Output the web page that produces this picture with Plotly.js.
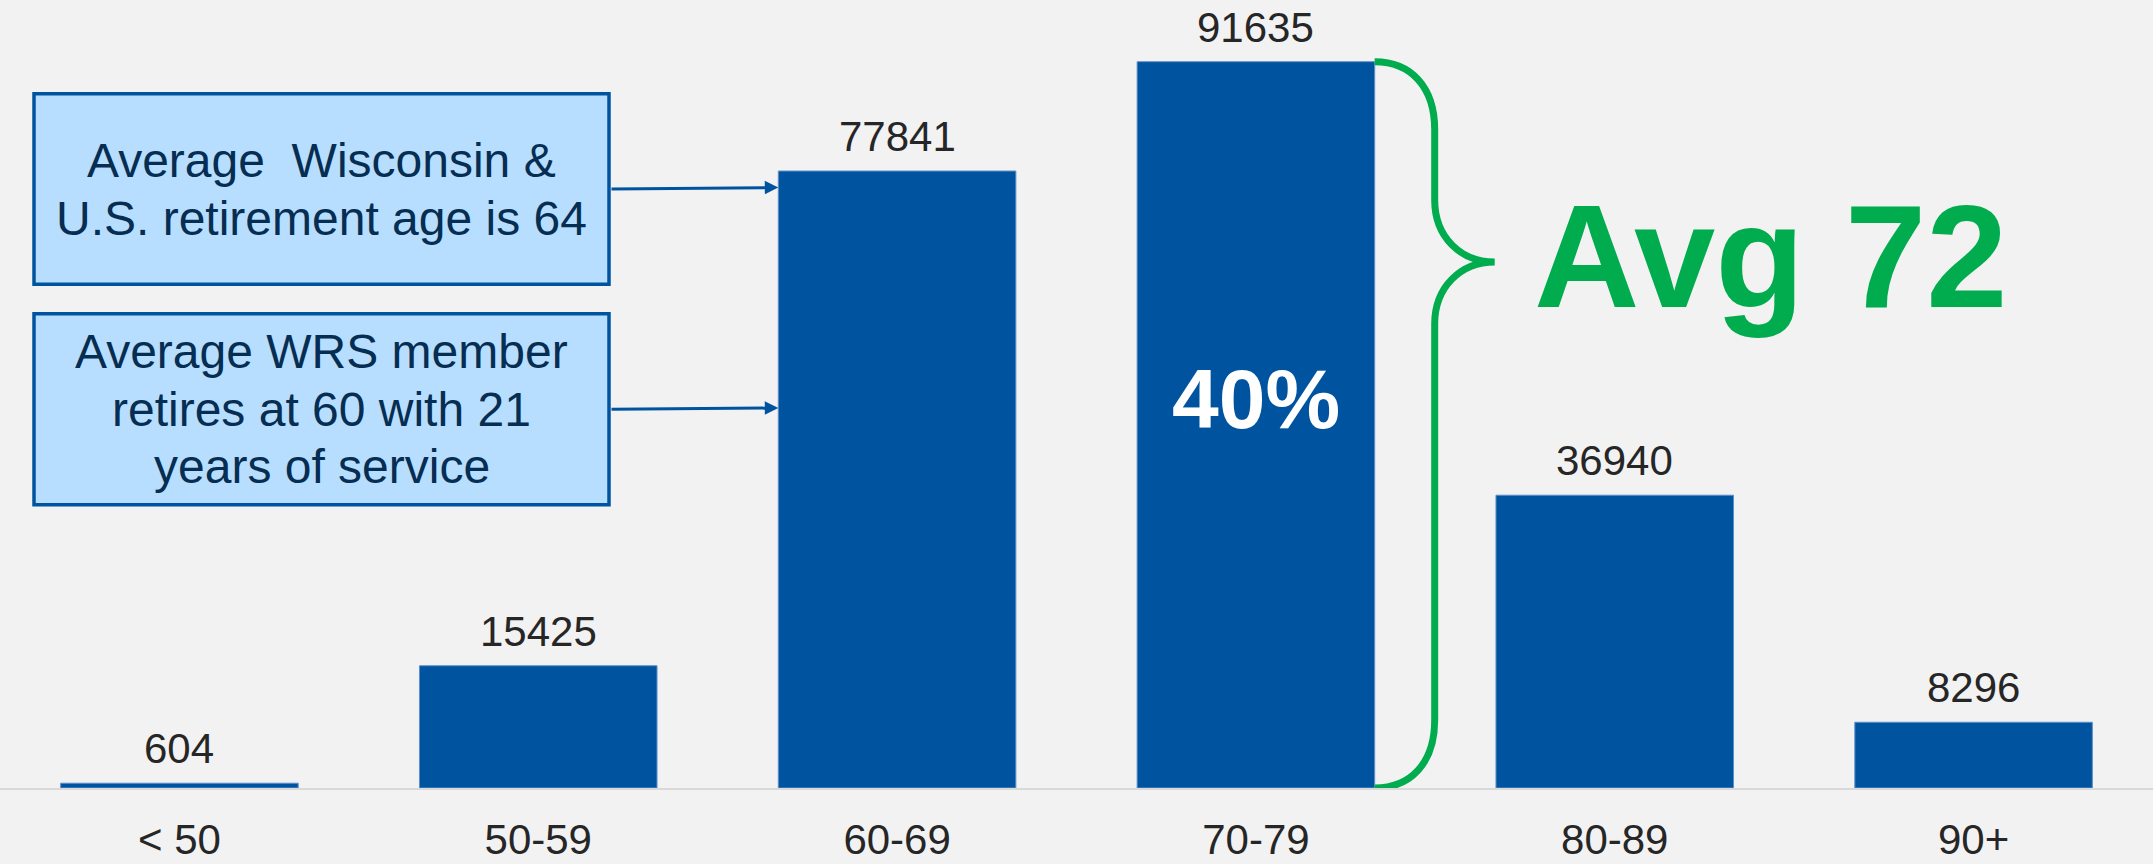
<!DOCTYPE html>
<html>
<head>
<meta charset="utf-8">
<script src="https://cdn.plot.ly/plotly-3.0.1.min.js"></script>
<style>
  html, body { margin: 0; padding: 0; background: #F2F2F2; }
  #chart { width: 2153px; height: 864px; }
</style>
</head>
<body>
<div id="chart"></div>
<script>
// ---- data ----
const categories = ['< 50', '50-59', '60-69', '70-79', '80-89', '90+'];
const members = [604, 15425, 77841, 91635, 36940, 8296];
const highlightIndex = 3;
const highlightShare = '40%';
const averageAgeText = 'Avg 72';
const note1Lines = ['Average\u00a0 Wisconsin &amp;', 'U.S. retirement age is 64'];
const note2Lines = ['Average WRS member', 'retires at 60 with 21', 'years of service'];

// ---- geometry helpers ----
const W = 2153, H = 864;
const mTop = 0, mBottom = 76;
const plotH = H - mTop - mBottom;           // 788
const yMax = 99420;
const bargap = 0.338;
const FONT = 'Liberation Sans, Arial, sans-serif';
const BLUE = '#00549F';
const GREEN = '#00AC4E';
const LABEL = '#262626';
const NAVY = '#062D52';

const px2x = px => px / W;                          // paper x
const px2y = py => 1 - (py - mTop) / plotH;         // paper y
const py2data = py => (mTop + plotH - py) * yMax / plotH;
const ctr = (baseline, size) => baseline - 0.3465 * size; // center of text box from baseline

const annotations = [];

// value labels
categories.forEach((c, i) => {
  annotations.push({
    x: c, y: members[i], xref: 'x', yref: 'y',
    text: String(members[i]), showarrow: false,
    yanchor: 'middle', yshift: 20 + 0.3465 * 42,
    font: { family: FONT, size: 42, color: LABEL }
  });
});

// share inside highlighted bar
annotations.push({
  x: categories[highlightIndex], xref: 'x', y: px2y(ctr(428, 84)), yref: 'paper',
  text: '<b>' + highlightShare + '</b>', showarrow: false, yanchor: 'middle',
  font: { family: FONT, size: 84, color: '#FFFFFF' }
});

// Avg 72
annotations.push({
  x: px2x(1770), xref: 'paper', y: px2y(ctr(307, 146)), yref: 'paper',
  text: '<b>' + averageAgeText + '</b>', showarrow: false,
  xanchor: 'center', yanchor: 'middle',
  font: { family: FONT, size: 146, color: GREEN }
});

// note boxes text
const boxCx = px2x(321.5);
[177, 235].forEach((b, i) => annotations.push({
  x: boxCx, xref: 'paper', y: px2y(ctr(b, 48)), yref: 'paper',
  text: note1Lines[i], showarrow: false, xanchor: 'center', yanchor: 'middle',
  font: { family: FONT, size: 48, color: NAVY }
}));
[368, 426, 483].forEach((b, i) => annotations.push({
  x: boxCx, xref: 'paper', y: px2y(ctr(b, 48)), yref: 'paper',
  text: note2Lines[i], showarrow: false, xanchor: 'center', yanchor: 'middle',
  font: { family: FONT, size: 48, color: NAVY }
}));

// arrows from boxes to the 60-69 bar
const barLeft60 = (2 + 0.5 - (1 - bargap) / 2) / categories.length; // paper x of bar left edge
[[187.5, 1.5], [408, 1.3]].forEach(([py, dy]) => annotations.push({
  x: barLeft60, xref: 'paper', y: px2y(py), yref: 'paper',
  ax: -(barLeft60 * W - 610), ay: dy, axref: 'pixel', ayref: 'pixel',
  text: '', showarrow: true, arrowhead: 2, arrowsize: 0.9, arrowwidth: 3,
  arrowcolor: BLUE, standoff: 0
}));

// shapes: boxes + brace
const shapes = [];
[[93.7, 284.3], [313.7, 504.7]].forEach(([t, b]) => shapes.push({
  type: 'rect', xref: 'paper', yref: 'paper',
  x0: px2x(34), x1: px2x(609), y0: px2y(b), y1: px2y(t),
  fillcolor: '#B8DEFF', line: { color: BLUE, width: 3.5 }
}));

const barRightPx = (highlightIndex + 0.5 + (1 - bargap) / 2) / categories.length * W;
const topPy = mTop + plotH - members[highlightIndex] * plotH / yMax;
const botPy = mTop + plotH;
const x0 = barRightPx, xs = x0 + 60, xt = x0 + 120;
const tipPy = 262;
const P = (px, py) => px2x(px).toFixed(5) + ',' + py2data(py).toFixed(1);
const bracePath =
  'M' + P(x0, topPy) +
  ' C' + P(x0 + 36, topPy) + ' ' + P(xs, topPy + 25) + ' ' + P(xs, topPy + 68) +
  ' L' + P(xs, tipPy - 62) +
  ' C' + P(xs, tipPy - 25) + ' ' + P(xs + 26, tipPy) + ' ' + P(xt, tipPy) +
  ' C' + P(xs + 26, tipPy) + ' ' + P(xs, tipPy + 25) + ' ' + P(xs, tipPy + 62) +
  ' L' + P(xs, botPy - 68) +
  ' C' + P(xs, botPy - 25) + ' ' + P(x0 + 36, botPy) + ' ' + P(x0, botPy);
shapes.push({
  type: 'path', xref: 'paper', yref: 'y', path: bracePath,
  line: { color: GREEN, width: 7 }
});

const trace = {
  type: 'bar', x: categories, y: members,
  marker: { color: BLUE, line: { color: '#5E8FCB', width: 1 } },
  hoverinfo: 'skip'
};

const layout = {
  width: W, height: H,
  margin: { l: 0, r: 0, t: mTop, b: mBottom, pad: 0 },
  paper_bgcolor: '#F2F2F2', plot_bgcolor: '#F2F2F2',
  bargap: bargap,
  showlegend: false,
  xaxis: {
    type: 'category', showgrid: false, zeroline: false,
    showline: true, linecolor: '#D9D9D9', linewidth: 2,
    ticks: '', ticklabelstandoff: 14,
    tickfont: { family: FONT, size: 42, color: LABEL },
    fixedrange: true
  },
  yaxis: {
    range: [0, yMax], visible: false, showgrid: false, zeroline: false,
    fixedrange: true
  },
  shapes: shapes,
  annotations: annotations,
  hovermode: false
};

Plotly.newPlot('chart', [trace], layout, { displayModeBar: false, staticPlot: true });
</script>
</body>
</html>
